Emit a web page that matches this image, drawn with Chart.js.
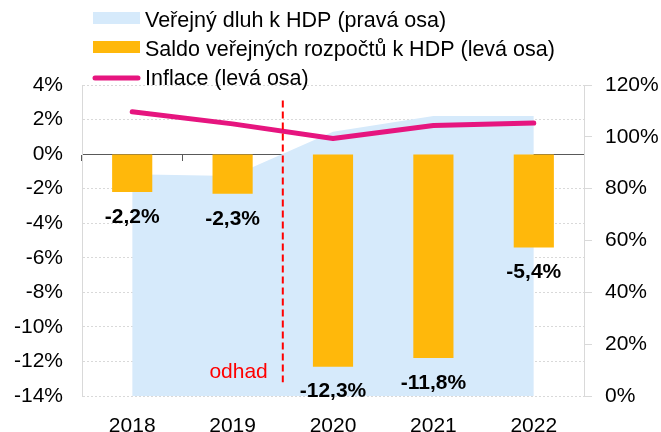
<!DOCTYPE html>
<html><head><meta charset="utf-8">
<script src="https://cdn.jsdelivr.net/npm/chart.js@4/dist/chart.umd.min.js"></script>
<style>html,body{margin:0;padding:0;background:#fff}#wrap{width:661px;height:432px;position:relative}</style>
</head><body><div id="wrap"><canvas id="c" width="661" height="432"></canvas></div>
<script>
// ---- data ----
const years = ['2018', '2019', '2020', '2021', '2022'];
const debtToGdp = [85.6, 84.9, 102.0, 108.0, 108.0];        // right axis, %
const budgetBalance = [-2.2, -2.3, -12.3, -11.8, -5.4];      // left axis, %
const inflation = [2.45, 1.75, 0.9, 1.65, 1.8];              // left axis, %
const leftAxisRange = [-14, 4, 2];      // min, max, step
const rightAxisRange = [0, 120, 20];
const seriesNames = [
  'Veřejný dluh k HDP (pravá osa)',
  'Saldo veřejných rozpočtů k HDP (levá osa)',
  'Inflace (levá osa)'
];
const estimateText = 'odhad';
const estimateBetween = ['2019', '2020'];

// ---- styles ----
const FONT = "'Liberation Sans', Arial, sans-serif";
const C_AREA = '#d6eafb', C_BAR = '#ffb80b', C_LINE = '#e6157f';

const stackedLegend = {
  id: 'stackedLegend',
  afterDraw(chart, args, o) {
    const ctx = chart.ctx;
    ctx.save();
    ctx.font = o.size + 'px ' + FONT;
    ctx.textBaseline = 'middle';
    ctx.textAlign = 'left';
    chart.data.datasets.forEach((ds, i) => {
      const y = o.top + i * o.gap;
      if (ds.type === 'line' && !ds.fill) {
        ctx.strokeStyle = ds.borderColor; ctx.lineWidth = ds.borderWidth; ctx.lineCap = 'round';
        ctx.beginPath(); ctx.moveTo(o.x1 + 2, y - 1); ctx.lineTo(o.x2 - 2, y - 1); ctx.stroke();
      } else {
        ctx.fillStyle = ds.backgroundColor;
        ctx.fillRect(o.x1, y - 3 - o.boxH / 2, o.x2 - o.x1, o.boxH);
      }
      ctx.fillStyle = '#000';
      ctx.fillText(ds.label, o.textX, y);
    });
    ctx.restore();
  }
};

const barLabels = {
  id: 'barLabels',
  afterDatasetsDraw(chart, args, o) {
    const ctx = chart.ctx;
    ctx.save();
    ctx.font = 'bold ' + o.size + 'px ' + FONT;
    ctx.fillStyle = '#000';
    ctx.textAlign = 'center';
    ctx.textBaseline = 'middle';
    chart.data.datasets.forEach((ds, di) => {
      if (ds.type !== 'bar') return;
      const meta = chart.getDatasetMeta(di);
      meta.data.forEach((el, i) => {
        const v = ds.data[i];
        const t = v.toFixed(1).replace('.', ',') + '%';
        ctx.fillText(t, el.x, el.y + (v < 0 ? o.offset : -o.offset));
      });
    });
    ctx.restore();
  }
};

const estimateMark = {
  id: 'estimateMark',
  afterDatasetsDraw(chart, args, o) {
    const xs = chart.scales.x, ys = chart.scales.y, ctx = chart.ctx;
    const x = (xs.getPixelForValue(years.indexOf(estimateBetween[0])) + xs.getPixelForValue(years.indexOf(estimateBetween[1]))) / 2;
    ctx.save();
    ctx.strokeStyle = '#ff0000'; ctx.lineWidth = 2; ctx.setLineDash([7, 4]);
    ctx.beginPath();
    ctx.moveTo(x, ys.getPixelForValue(o.from));
    ctx.lineTo(x, ys.getPixelForValue(o.to));
    ctx.stroke();
    ctx.setLineDash([]);
    ctx.fillStyle = '#ff0000';
    ctx.font = o.size + 'px ' + FONT;
    ctx.textAlign = 'right'; ctx.textBaseline = 'middle';
    ctx.fillText(estimateText, x - o.gap, ys.getPixelForValue(o.textAt));
    ctx.restore();
  }
};

new Chart(document.getElementById('c'), {
  type: 'bar',
  data: {
    labels: years,
    datasets: [
      { type: 'line', label: seriesNames[0], data: debtToGdp, yAxisID: 'y1', xAxisID: 'x',
        backgroundColor: C_AREA, borderColor: C_AREA, borderWidth: 0, fill: 'origin',
        pointRadius: 0, tension: 0, order: 3 },
      { type: 'bar', label: seriesNames[1], data: budgetBalance, yAxisID: 'y', xAxisID: 'x',
        backgroundColor: C_BAR, borderWidth: 0, barPercentage: 0.4, categoryPercentage: 1.0, order: 2 },
      { type: 'line', label: seriesNames[2], data: inflation, yAxisID: 'y', xAxisID: 'x',
        borderColor: C_LINE, backgroundColor: C_LINE, borderWidth: 5, fill: false,
        borderCapStyle: 'round', borderJoinStyle: 'round', pointRadius: 0, tension: 0, order: 1 }
    ]
  },
  options: {
    responsive: false,
    animation: false,
    devicePixelRatio: 1,
    layout: { padding: { top: 85, left: 0, right: 0, bottom: 0 } },
    plugins: {
      legend: { display: false },
      tooltip: { enabled: false },
      stackedLegend: { top: 21, gap: 29, x1: 93, x2: 140, boxH: 12, textX: 145, size: 21.5 },
      barLabels: { size: 21, offset: 25 },
      estimateMark: { from: 3.1, to: -13.2, textAt: -12.6, gap: 15, size: 21 }
    },
    scales: {
      x: {
        type: 'category', position: 'bottom', offset: true,
        grid: { display: false }, border: { display: false },
        ticks: { font: { family: FONT, size: 21 }, color: '#000', padding: 10, maxRotation: 0 },
        afterFit: s => { s.height = 36; }
      },
      x2: {
        type: 'category', labels: years, position: { y: 0 }, offset: true,
        grid: { display: true, offset: true, drawOnChartArea: false, drawTicks: true, tickLength: 6, color: '#595959', lineWidth: 1 },
        border: { display: true, color: '#595959', width: 1 },
        ticks: { display: false }
      },
      y: {
        position: 'left', min: leftAxisRange[0], max: leftAxisRange[1],
        ticks: { stepSize: leftAxisRange[2], callback: v => v + '%', font: { family: FONT, size: 21 }, color: '#000', padding: 19 },
        grid: { color: c => (c.tick && c.tick.value === 0) ? 'rgba(0,0,0,0)' : '#d9d9d9', drawTicks: false, lineWidth: 1 },
        border: { display: true, color: '#d9d9d9', dash: [2, 2] },
        afterFit: s => { s.width = 82; }
      },
      y1: {
        position: 'right', min: rightAxisRange[0], max: rightAxisRange[1],
        ticks: { stepSize: rightAxisRange[2], callback: v => v + '%', font: { family: FONT, size: 21 }, color: '#000', padding: 13 },
        grid: { drawOnChartArea: false, drawTicks: true, tickLength: 8, color: '#d9d9d9' },
        border: { display: true, color: '#d9d9d9' },
        afterFit: s => { s.width = 77; }
      }
    }
  },
  plugins: [stackedLegend, barLabels, estimateMark]
});
</script></body></html>
